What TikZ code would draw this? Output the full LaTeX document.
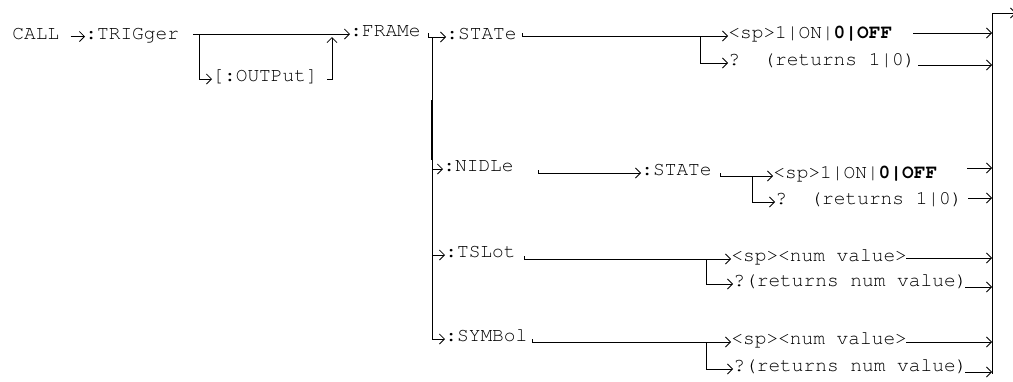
\documentclass[tikz,border=0pt]{standalone}
\usepackage[T1]{fontenc}
\usepackage{courier}
\usetikzlibrary{arrows.meta}
\begin{document}
\begin{tikzpicture}[x=1pt,y=-1pt,line width=0.8pt,
  lbl/.style={font=\ttfamily\fontsize{19.5}{20}\selectfont,inner sep=0pt,anchor=west,text height=5pt,text depth=0pt},
  ar/.style={-{Straight Barb[length=5pt,width=10pt]}}]
\useasboundingbox (0,0) rectangle (1013,381);
% nodes
\node[lbl] (call) at (12,36.5) {CALL};
\node[lbl] (trig) at (85,36.5) {:TRIGger};
\node[lbl] (outp) at (212,79) {[:OUTPut]};
\node[lbl] (frame) at (350,34) {:FRAMe};
\node[lbl] (st1) at (446,37) {:STATe};
\node[lbl] (on1) at (728,36) {<sp>1|ON|\textbf{0|OFF}};
\node[lbl] (q1) at (728,63) {? (returns 1|0)};
\node[lbl] (nidle) at (443,169) {:NIDLe};
\node[lbl] (st2) at (641,173) {:STATe};
\node[lbl] (on2) at (773,176) {<sp>1|ON|\textbf{0|OFF}};
\node[lbl] (q2) at (775,202) {? (returns 1|0)};
\node[lbl] (ts) at (445,255) {:TSLot};
\node[lbl] (nv1) at (731,259) {<sp><num value>};
\node[lbl] (rq1) at (733,284) {?(returns num value)};
\node[lbl] (sym) at (445,339) {:SYMBol};
\node[lbl] (nv2) at (731,342) {<sp><num value>};
\node[lbl] (rq2) at (733,369) {?(returns num value)};
% junctions
\coordinate (t1) at (193,34); \coordinate (b0) at (199,34); \coordinate (u1) at (332,37);
\coordinate (h1) at (428,33); \coordinate (v1) at (432,38);
\coordinate (h2) at (522,33); \coordinate (b1) at (700,36);
\coordinate (h3) at (538,170); \coordinate (h4) at (720,173); \coordinate (b2) at (752,176);
\coordinate (h5) at (524,256); \coordinate (b3) at (706,259);
\coordinate (h6) at (532,339); \coordinate (b4) at (706,342);
\coordinate (rt) at (992,13); \coordinate (rb) at (992,374); \coordinate (out) at (1016,13);
\coordinate (r1) at (913,33); \coordinate (r2) at (918,65);
\coordinate (r3) at (967,168); \coordinate (r4) at (968,198);
\coordinate (r5) at (906,258); \coordinate (r6) at (965,287);
\coordinate (r7) at (906,342); \coordinate (r8) at (965,372);
\coordinate (k1) at (432,100); \coordinate (k2) at (432,160);
% connectors
\draw[ar] ([xshift=11pt]call.east) -- (trig.west);
\draw[ar] (t1) -- (frame.west);
\draw[ar] (b0) |- (outp.west);
\draw[ar] ([xshift=9pt]outp.east) -| (u1);
\draw[ar] (h1) |- (st1.west);
\draw[ar] (v1) |- (sym.west);
\draw[line width=1.6pt] (k1) -- (k2);
\draw[ar] (v1 |- nidle.west) -- (nidle.west);
\draw[ar] (v1 |- ts.west) -- (ts.west);
\draw[ar] (h2) |- (on1.west);
\draw[ar] (b1) |- (q1.west);
\draw[ar] (h3) |- (st2.west);
\draw[ar] (h4) |- (on2.west);
\draw[ar] (b2) |- (q2.west);
\draw[ar] (h5) |- (nv1.west);
\draw[ar] (b3) |- (rq1.west);
\draw[ar] (h6) |- (nv2.west);
\draw[ar] (b4) |- (rq2.west);
\draw (rt) -- (rb);
\draw[ar] (rt) -- (out);
\foreach \r in {r1,r2,r3,r4,r5,r6,r7,r8} \draw[ar] (\r) -- (\r -| rt);
\end{tikzpicture}
\end{document}
